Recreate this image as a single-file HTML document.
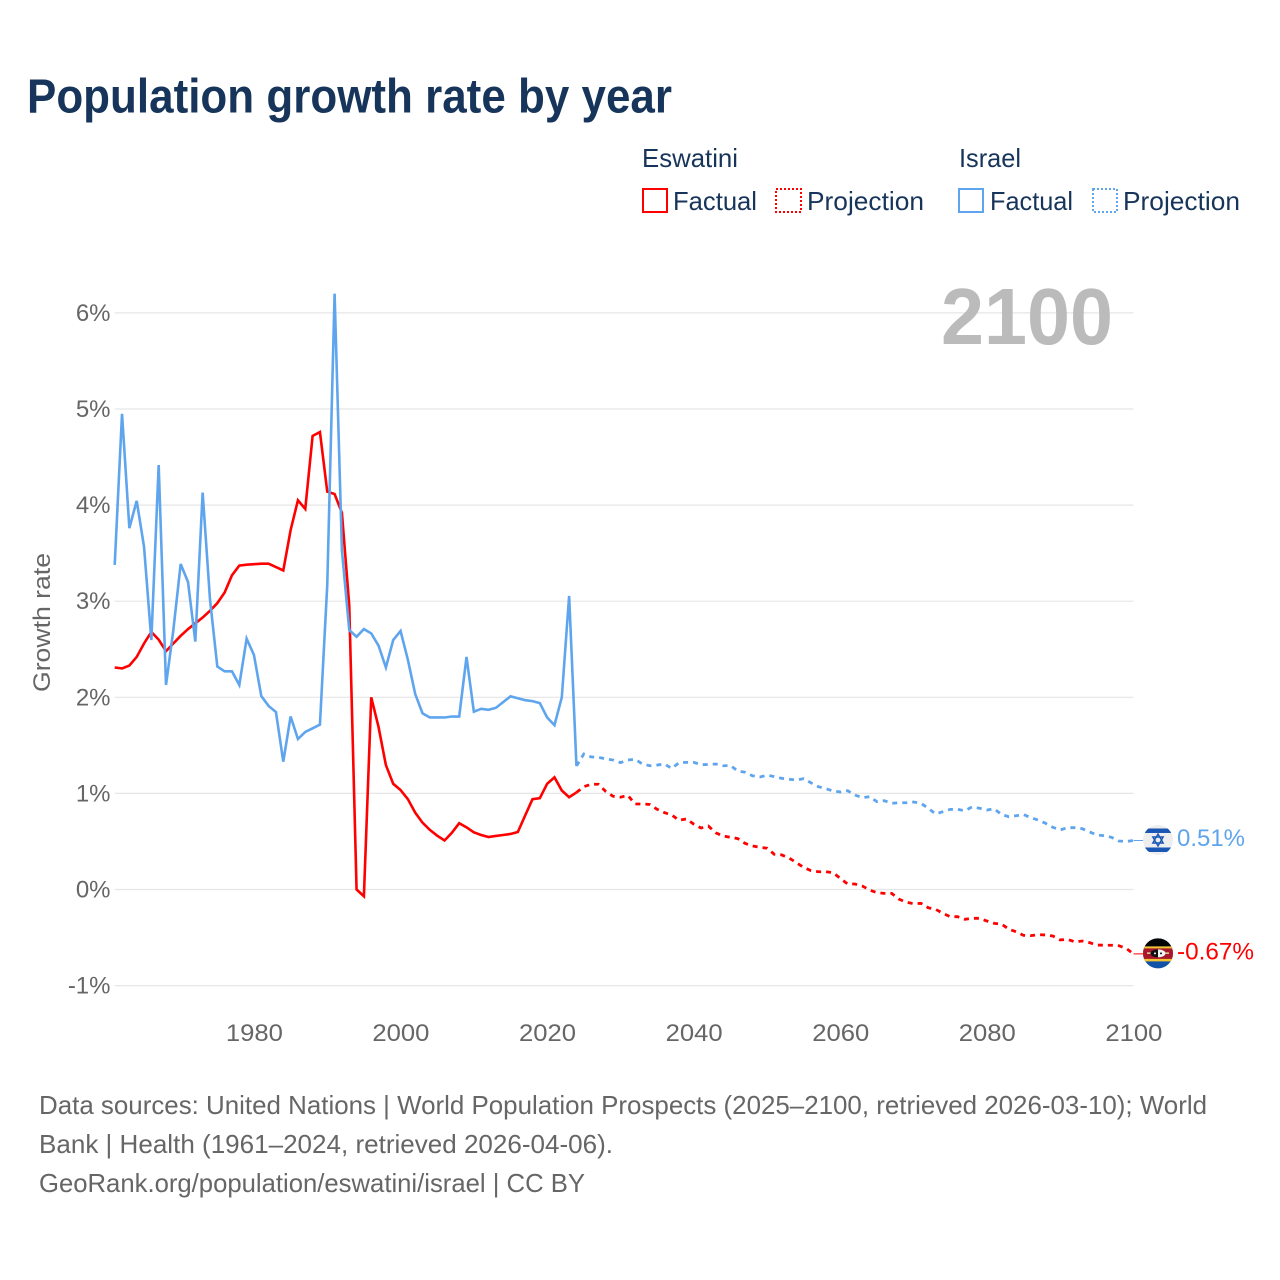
<!DOCTYPE html>
<html lang="en">
<head>
<meta charset="utf-8">
<title>Population growth rate by year</title>
<style>
html,body{margin:0;padding:0;background:#fff;}
svg{display:block;}
text{font-family:"Liberation Sans",sans-serif;}
</style>
</head>
<body>
<svg id="chart" xmlns="http://www.w3.org/2000/svg" width="1280" height="1280" viewBox="0 0 1280 1280">
  <rect width="1280" height="1280" fill="#ffffff"/>
  <text x="27" y="112.5" font-size="48" font-weight="700" fill="#17355a" textLength="645" lengthAdjust="spacingAndGlyphs">Population growth rate by year</text>

  <g font-size="26" fill="#17355a">
    <text x="642" y="167" textLength="96" lengthAdjust="spacingAndGlyphs">Eswatini</text>
    <text x="959" y="167" textLength="62" lengthAdjust="spacingAndGlyphs">Israel</text>
    <rect x="643" y="189" width="24" height="23" fill="none" stroke="#ff0000" stroke-width="2"/>
    <text x="673" y="210" textLength="84" lengthAdjust="spacingAndGlyphs">Factual</text>
    <rect x="776" y="189" width="25" height="23" fill="none" stroke="#ff0000" stroke-width="2" stroke-dasharray="2 2"/>
    <text x="807" y="210" textLength="117" lengthAdjust="spacingAndGlyphs">Projection</text>
    <rect x="959" y="189" width="24" height="23" fill="none" stroke="#5fa5ee" stroke-width="2"/>
    <text x="990" y="210" textLength="83" lengthAdjust="spacingAndGlyphs">Factual</text>
    <rect x="1093" y="189" width="24" height="23" fill="none" stroke="#5fa5ee" stroke-width="2" stroke-dasharray="2 2"/>
    <text x="1123" y="210" textLength="117" lengthAdjust="spacingAndGlyphs">Projection</text>
  </g>

  <g id="grid"></g>
  <g id="yticks"></g>
  <g id="xticks"></g>

  <text transform="translate(50,622.5) rotate(-90)" text-anchor="middle" font-size="24" fill="#666666" textLength="139" lengthAdjust="spacingAndGlyphs">Growth rate</text>
  <text x="941" y="344" font-size="80" font-weight="700" fill="#bbbbbb" textLength="172" lengthAdjust="spacingAndGlyphs">2100</text>

  <g id="series"></g>

  <defs>
    <clipPath id="flag-clip"><circle cx="0" cy="0" r="15"/></clipPath>
  </defs>

  <g id="flag-israel">
    <g clip-path="url(#flag-clip)">
      <rect x="-15" y="-15" width="30" height="30" fill="#eeeeee"/>
      <rect x="-15" y="-11.5" width="30" height="4.5" fill="#1a56b4"/>
      <rect x="-15" y="7.5" width="30" height="4.5" fill="#1a56b4"/>
      <polygon points="0,-6 5.2,3 -5.2,3" fill="none" stroke="#1a56b4" stroke-width="1.4"/>
      <polygon points="0,6 5.2,-3 -5.2,-3" fill="none" stroke="#1a56b4" stroke-width="1.4"/>
    </g>
  </g>
  <g id="flag-eswatini">
    <g clip-path="url(#flag-clip)">
      <rect x="-15" y="-16" width="30" height="32" fill="#0f52a8"/>
      <rect x="-15" y="-16" width="30" height="9" fill="#050505"/>
      <rect x="-15" y="-7" width="30" height="15" fill="#f2c230"/>
      <rect x="-15" y="-5" width="30" height="10.5" fill="#a8182c"/>
      <rect x="-11" y="-1" width="22" height="1.5" fill="#e8d9a0"/>
      <ellipse cx="0" cy="0" rx="7.5" ry="4" fill="#111111"/>
      <path d="M0,-4 A7.5,4 0 0 1 0,4 Z" fill="#f4f4f4"/>
      <circle cx="-3" cy="0" r="1" fill="#f4f4f4"/>
      <circle cx="3" cy="0" r="1" fill="#111111"/>
    </g>
  </g>

  <text id="label-israel" x="1177" font-size="24" fill="#5fa5ee" textLength="68" lengthAdjust="spacingAndGlyphs">0.51%</text>
  <text id="label-eswatini" x="1177" font-size="24" fill="#ff0000" textLength="77" lengthAdjust="spacingAndGlyphs">-0.67%</text>

  <g font-size="26" fill="#666666">
    <text x="39" y="1114" textLength="1168" lengthAdjust="spacingAndGlyphs">Data sources: United Nations | World Population Prospects (2025–2100, retrieved 2026-03-10); World</text>
    <text x="39" y="1153" textLength="574" lengthAdjust="spacingAndGlyphs">Bank | Health (1961–2024, retrieved 2026-04-06).</text>
    <text x="39" y="1192" textLength="546" lengthAdjust="spacingAndGlyphs">GeoRank.org/population/eswatini/israel | CC BY</text>
  </g>
</svg>
<script>
const yTickValues = [6, 5, 4, 3, 2, 1, 0, -1];
const yTickLabels = ["6%", "5%", "4%", "3%", "2%", "1%", "0%", "-1%"];
const xTickYears = [1980, 2000, 2020, 2040, 2060, 2080, 2100];
const xTickLabels = ["1980", "2000", "2020", "2040", "2060", "2080", "2100"];

const factualStartYear = 1961;
const projectionStartYear = 2024;

const eswatiniFactual = [
  2.31, 2.30, 2.33, 2.42, 2.56, 2.68, 2.60, 2.48, 2.56, 2.64,
  2.71, 2.77, 2.83, 2.90, 2.98, 3.09, 3.27, 3.37, 3.38, 3.385,
  3.39, 3.39, 3.355, 3.32, 3.74, 4.05, 3.96, 4.72, 4.76, 4.14,
  4.115, 3.92, 2.96, 0.0, -0.07, 2.00, 1.69, 1.295, 1.10, 1.035,
  0.94, 0.80, 0.695, 0.62, 0.56, 0.51, 0.59, 0.69, 0.647, 0.595,
  0.567, 0.546, 0.557, 0.567, 0.578, 0.598, 0.77, 0.94, 0.95, 1.10,
  1.167, 1.03, 0.96, 1.01
];
const eswatiniProjection = [
  1.01, 1.07, 1.095, 1.095, 1.02, 0.97, 0.96, 0.98, 0.89, 0.89,
  0.885, 0.835, 0.80, 0.775, 0.72, 0.735, 0.68, 0.64, 0.66, 0.59,
  0.557, 0.543, 0.53, 0.48, 0.453, 0.44, 0.43, 0.366, 0.36, 0.328,
  0.28, 0.23, 0.196, 0.185, 0.185, 0.175, 0.116, 0.057, 0.057, 0.036,
  -0.005, -0.033, -0.04, -0.04, -0.10, -0.133, -0.148, -0.144, -0.19, -0.206,
  -0.248, -0.283, -0.283, -0.31, -0.30, -0.30, -0.328, -0.352, -0.36, -0.414,
  -0.44, -0.477, -0.48, -0.47, -0.473, -0.484, -0.525, -0.518, -0.546, -0.536,
  -0.553, -0.578, -0.58, -0.58, -0.585, -0.612, -0.67
];
const israelFactual = [
  3.377, 4.95, 3.76, 4.045, 3.567, 2.596, 4.417, 2.128, 2.70, 3.387,
  3.20, 2.58, 4.13, 3.02, 2.32, 2.27, 2.27, 2.128, 2.61, 2.44,
  2.013, 1.91, 1.847, 1.33, 1.80, 1.566, 1.64, 1.677, 1.715, 3.17,
  6.20, 3.53, 2.70, 2.63, 2.71, 2.665, 2.537, 2.31, 2.596, 2.69,
  2.39, 2.034, 1.833, 1.79, 1.79, 1.79, 1.80, 1.80, 2.42, 1.85,
  1.88, 1.87, 1.89, 1.95, 2.01, 1.99, 1.97, 1.96, 1.94, 1.79,
  1.71, 2.00, 3.055, 1.285
];
const israelProjection = [
  1.285, 1.41, 1.38, 1.375, 1.36, 1.347, 1.32, 1.347, 1.355, 1.306,
  1.288, 1.295, 1.306, 1.26, 1.32, 1.323, 1.323, 1.30, 1.30, 1.306,
  1.288, 1.29, 1.233, 1.22, 1.184, 1.17, 1.19, 1.174, 1.157, 1.147,
  1.14, 1.153, 1.11, 1.07, 1.05, 1.025, 1.015, 1.028, 0.983, 0.955,
  0.966, 0.914, 0.924, 0.897, 0.903, 0.903, 0.91, 0.897, 0.845, 0.786,
  0.81, 0.834, 0.834, 0.82, 0.86, 0.845, 0.827, 0.84, 0.78, 0.757,
  0.768, 0.78, 0.747, 0.723, 0.689, 0.647, 0.62, 0.643, 0.643, 0.633,
  0.60, 0.567, 0.56, 0.543, 0.505, 0.50, 0.51
];

const SVG_NS = "http://www.w3.org/2000/svg";
function xScale(year) { return 114.7 + (year - 1961) * 7.3295; }
function yScale(value) { return 889.5 - value * 96.1; }

function linePath(values, startYear) {
  return values.map(function (v, i) {
    return (i ? "L" : "M") + xScale(startYear + i).toFixed(2) + " " + yScale(v).toFixed(2);
  }).join(" ");
}

const gridGroup = document.getElementById("grid");
const yTickGroup = document.getElementById("yticks");
yTickValues.forEach(function (v, i) {
  const line = document.createElementNS(SVG_NS, "line");
  
  
  line.setAttribute("x1", xScale(1961));
  line.setAttribute("x2", xScale(2100));
  line.setAttribute("y1", yScale(v));
  line.setAttribute("y2", yScale(v));
  line.setAttribute("stroke", "#e6e6e6");
  line.setAttribute("stroke-width", "1.2");
  gridGroup.appendChild(line);

  const label = document.createElementNS(SVG_NS, "text");
  
  
  label.setAttribute("x", "110.5");
  label.setAttribute("y", yScale(v) + 8);
  label.setAttribute("text-anchor", "end");
  label.setAttribute("font-size", "24");
  label.setAttribute("fill", "#666666");
  label.textContent = yTickLabels[i];
  yTickGroup.appendChild(label);
});

const xTickGroup = document.getElementById("xticks");
xTickYears.forEach(function (year, i) {
  const label = document.createElementNS(SVG_NS, "text");
  
  
  label.setAttribute("x", xScale(year) + 0.4);
  label.setAttribute("y", "1041");
  label.setAttribute("text-anchor", "middle");
  label.setAttribute("font-size", "24");
  label.setAttribute("fill", "#666666");
  label.setAttribute("textLength", "57");
  label.setAttribute("lengthAdjust", "spacingAndGlyphs");
  label.textContent = xTickLabels[i];
  xTickGroup.appendChild(label);
});

const seriesGroup = document.getElementById("series");

const eswatiniFactualLine = document.createElementNS(SVG_NS, "path");


eswatiniFactualLine.setAttribute("d", linePath(eswatiniFactual, factualStartYear));
eswatiniFactualLine.setAttribute("fill", "none");
eswatiniFactualLine.setAttribute("stroke", "#ff0000");
eswatiniFactualLine.setAttribute("stroke-width", "2.6");
seriesGroup.appendChild(eswatiniFactualLine);

const eswatiniProjectionLine = document.createElementNS(SVG_NS, "path");


eswatiniProjectionLine.setAttribute("d", linePath(eswatiniProjection, projectionStartYear));
eswatiniProjectionLine.setAttribute("fill", "none");
eswatiniProjectionLine.setAttribute("stroke", "#ff0000");
eswatiniProjectionLine.setAttribute("stroke-width", "2.8");
eswatiniProjectionLine.setAttribute("stroke-dasharray", "5 5");
seriesGroup.appendChild(eswatiniProjectionLine);

const israelFactualLine = document.createElementNS(SVG_NS, "path");


israelFactualLine.setAttribute("d", linePath(israelFactual, factualStartYear));
israelFactualLine.setAttribute("fill", "none");
israelFactualLine.setAttribute("stroke", "#5fa5ee");
israelFactualLine.setAttribute("stroke-width", "2.6");
seriesGroup.appendChild(israelFactualLine);

const israelProjectionLine = document.createElementNS(SVG_NS, "path");


israelProjectionLine.setAttribute("d", linePath(israelProjection, projectionStartYear));
israelProjectionLine.setAttribute("fill", "none");
israelProjectionLine.setAttribute("stroke", "#5fa5ee");
israelProjectionLine.setAttribute("stroke-width", "2.8");
israelProjectionLine.setAttribute("stroke-dasharray", "5 5");
seriesGroup.appendChild(israelProjectionLine);

const eswatiniEndY = yScale(eswatiniProjection[eswatiniProjection.length - 1]);
const israelEndY = yScale(israelProjection[israelProjection.length - 1]);

const eswatiniConnector = document.createElementNS(SVG_NS, "line");


eswatiniConnector.setAttribute("x1", xScale(2100));
eswatiniConnector.setAttribute("x2", "1144");
eswatiniConnector.setAttribute("y1", eswatiniEndY);
eswatiniConnector.setAttribute("y2", eswatiniEndY);
eswatiniConnector.setAttribute("stroke", "#ff0000");
eswatiniConnector.setAttribute("stroke-width", "1");
seriesGroup.appendChild(eswatiniConnector);

const israelConnector = document.createElementNS(SVG_NS, "line");


israelConnector.setAttribute("x1", xScale(2100));
israelConnector.setAttribute("x2", "1144");
israelConnector.setAttribute("y1", israelEndY);
israelConnector.setAttribute("y2", israelEndY);
israelConnector.setAttribute("stroke", "#5fa5ee");
israelConnector.setAttribute("stroke-width", "1");
seriesGroup.appendChild(israelConnector);

document.getElementById("flag-israel").setAttribute("transform", "translate(1158," + (israelEndY - 0.5) + ")");
document.getElementById("flag-eswatini").setAttribute("transform", "translate(1158," + (eswatiniEndY - 0.5) + ")");
document.getElementById("label-israel").setAttribute("y", israelEndY + 5.5);
document.getElementById("label-eswatini").setAttribute("y", eswatiniEndY + 5.5);
</script>
</body>
</html>
